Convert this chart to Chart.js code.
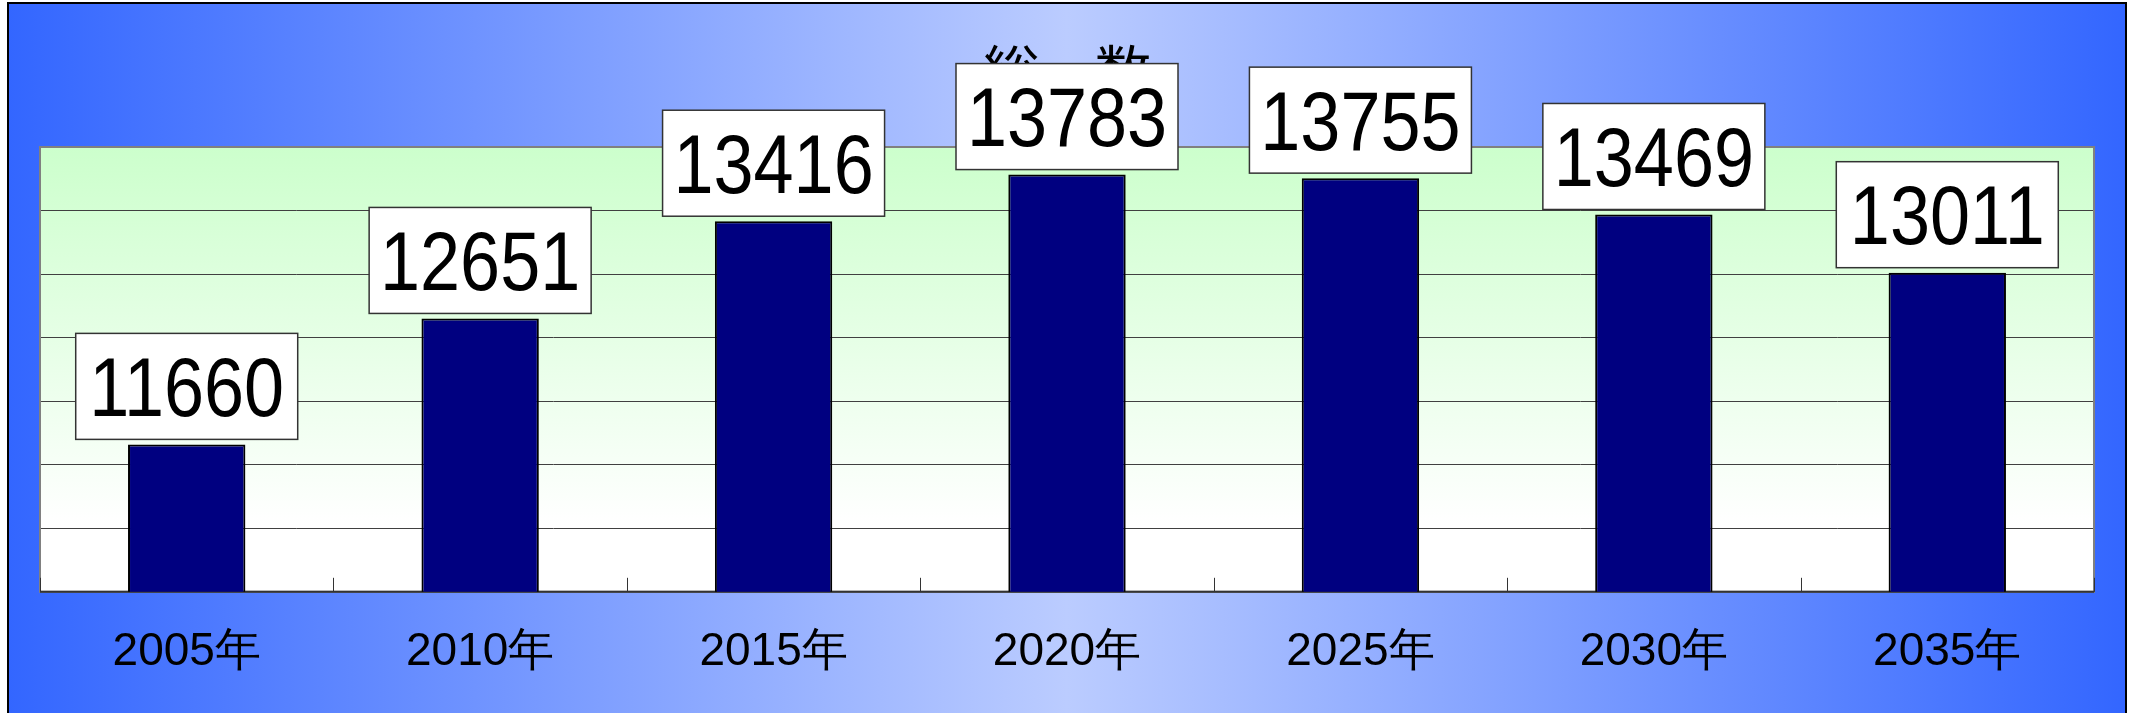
<!DOCTYPE html>
<html>
<head>
<meta charset="utf-8">
<script src="https://cdn.jsdelivr.net/npm/chart.js@4"></script>
<style>
html, body { margin: 0; padding: 0; background: #fff; }
#wrap { width: 2138px; height: 713px; }
</style>
</head>
<body>
<div id="wrap"><canvas id="totalChart" width="2138" height="713"></canvas></div>
<script>
// data
var years = ['2005年', '2010年', '2015年', '2020年', '2025年', '2030年', '2035年'];
var totals = [11660, 12651, 13416, 13783, 13755, 13469, 13011];
var yMin = 10500;
var yMax = 14000;
var yStep = 500;
var titleText = '総　数';

// background, title, plot frame, value boxes
var decorPlugin = {
    id: 'decor',
    beforeDraw: function (chart) {
        var ctx = chart.ctx;
        var a = chart.chartArea;
        ctx.save();
        ctx.fillStyle = '#ffffff';
        ctx.fillRect(0, 0, chart.width, chart.height);

        var g = ctx.createLinearGradient(8, 0, 2126, 0);
        g.addColorStop(0, '#3366ff');
        g.addColorStop(0.5, '#bbccff');
        g.addColorStop(1, '#3366ff');
        ctx.fillStyle = g;
        ctx.fillRect(8, 3, 2118, chart.height);
        ctx.strokeStyle = '#000000';
        ctx.lineWidth = 2;
        ctx.strokeRect(8, 3, 2118, chart.height + 10);

        // plot area fill
        var pg = ctx.createLinearGradient(0, a.top, 0, a.bottom);
        pg.addColorStop(0, '#ccffcc');
        pg.addColorStop(0.85, '#ffffff');
        pg.addColorStop(1, '#ffffff');
        ctx.fillStyle = pg;
        ctx.fillRect(a.left, a.top, a.right - a.left, a.bottom - a.top);

        // title (gets covered by the boxes)
        ctx.fillStyle = '#000000';
        ctx.font = '56px "Noto Sans CJK JP"';
        ctx.textAlign = 'center';
        ctx.textBaseline = 'alphabetic';
        ctx.fillText(titleText, (a.left + a.right) / 2, 92);
        ctx.restore();
    },
    beforeDatasetsDraw: function (chart) {
        var ctx = chart.ctx;
        var a = chart.chartArea;
        var xs = chart.scales.x;
        ctx.save();
        ctx.strokeStyle = '#808080';
        ctx.lineWidth = 2;
        ctx.strokeRect(a.left, a.top, a.right - a.left, a.bottom - a.top);

        // small tick marks between categories, pointing up
        var step = xs.getPixelForValue(1) - xs.getPixelForValue(0);
        ctx.strokeStyle = '#333333';
        ctx.lineWidth = 1;
        for (var i = 0; i <= years.length; i++) {
            var x = Math.round(xs.getPixelForValue(0) - step / 2 + step * i) + 0.5;
            ctx.beginPath();
            ctx.moveTo(x, a.bottom);
            ctx.lineTo(x, a.bottom - 14);
            ctx.stroke();
        }
        ctx.strokeStyle = '#333333';
        ctx.lineWidth = 2;
        ctx.beginPath();
        ctx.moveTo(a.left, a.bottom);
        ctx.lineTo(a.right, a.bottom);
        ctx.stroke();
        ctx.restore();
    },
    afterDatasetsDraw: function (chart) {
        var ctx = chart.ctx;
        var meta = chart.getDatasetMeta(0);
        ctx.save();
        meta.data.forEach(function (bar, i) {
            var w = 222, h = 106;
            var bx = bar.x - w / 2;
            var by = bar.y - 5 - h;
            ctx.fillStyle = '#ffffff';
            ctx.fillRect(bx, by, w, h);
            ctx.strokeStyle = '#333333';
            ctx.lineWidth = 1.5;
            ctx.strokeRect(bx, by, w, h);

            ctx.save();
            ctx.translate(bar.x, by + h / 2);
            ctx.scale(1, 1.15);
            ctx.fillStyle = '#000000';
            ctx.font = '72px Arimo, "Liberation Sans", Arial, sans-serif';
            ctx.textAlign = 'center';
            ctx.textBaseline = 'alphabetic';
            ctx.fillText(String(totals[i]), 0, 0.716 * 72 / 2);
            ctx.restore();
        });
        ctx.restore();
    }
};

var ctxTotal = document.getElementById('totalChart').getContext('2d');
var totalChart = new Chart(ctxTotal, {
    type: 'bar',
    data: {
        labels: years,
        datasets: [{
            label: titleText,
            data: totals,
            backgroundColor: '#000080',
            borderColor: '#000000',
            borderWidth: 2,
            borderSkipped: false,
            barPercentage: 0.4,
            categoryPercentage: 1.0
        }]
    },
    options: {
        responsive: false,
        animation: false,
        devicePixelRatio: 1,
        layout: {
            padding: { left: 40, right: 44, top: 147, bottom: 0 }
        },
        plugins: {
            legend: { display: false },
            title: { display: false },
            tooltip: { enabled: false }
        },
        scales: {
            x: {
                grid: { display: false, drawTicks: false },
                border: { display: false },
                ticks: {
                    color: '#000000',
                    padding: 33,
                    maxRotation: 0,
                    autoSkip: false,
                    font: { family: '"Liberation Sans", Arial, sans-serif', size: 46 }
                }
            },
            y: {
                min: yMin,
                max: yMax,
                grid: {
                    color: '#404040',
                    lineWidth: 1,
                    drawTicks: false
                },
                border: { display: false },
                ticks: { display: false, stepSize: yStep }
            }
        }
    },
    plugins: [decorPlugin]
});
</script>
</body>
</html>
